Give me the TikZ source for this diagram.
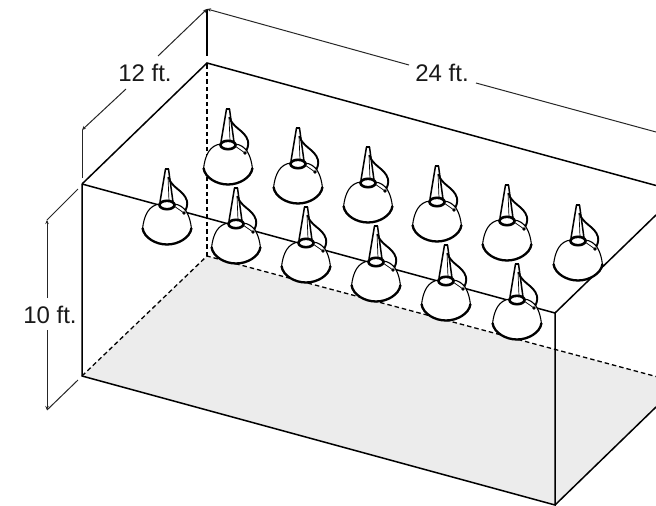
\documentclass[tikz,border=0pt]{standalone}
\usepackage{fontspec}
\setmainfont{Liberation Sans}
\usetikzlibrary{arrows.meta}
\definecolor{floorgray}{RGB}{236,236,236}
\tikzset{
 edge/.style={line width=1.5pt,black},
 hidden/.style={line width=1.3pt,black,dash pattern=on 4.5pt off 3pt},
 dimline/.style={line width=1pt,black!85},
 dimtip/.style={-{Stealth[length=4pt,width=3.5pt]}},
 dimlabel/.style={font=\fontsize{24}{26}\selectfont,text=black!90,inner sep=0pt},
 lamp/.pic={
  \draw[white,fill=white] (-2,-36) -- (2,-36) -- (8,-2) -- (-8,-2) -- cycle;
  \draw[line width=1.5pt] (-1.5,-36) -- (-7,-3) (1.5,-36) -- (6,-3);
  \draw[line width=2pt] (-1.8,-36) -- (1.8,-36);
  \draw[line width=.7pt] (1,-28) -- (2,-4);
  \draw[line width=1.9pt] (1.5,-28) .. controls (4,-17) and (17,-15) .. (20,-4) .. controls (21,0) and (19,5) .. (17,8);
  \filldraw[white,draw=black,line width=1.1pt] (-24.5,24) .. controls (-23,10) and (-18,0) .. (-7,-1)
     -- (7,-1) .. controls (18,0) and (23,10) .. (24.5,24) .. controls (22,34) and (10,39.5) .. (0,39.5) .. controls (-10,39.5) and (-22,34) .. (-24.5,24) -- cycle;
  \draw[line width=2.3pt] (-24.5,23) .. controls (-23,33) and (-11,39.5) .. (0,39.5) .. controls (11,39.5) and (23,33) .. (24.5,23);
  \draw[line width=.7pt] (7,1) -- (17,8);
  \fill (17,8) circle (1.8);
  \draw[line width=2.6pt,fill=white] (0,0) ellipse (7.5 and 4.2);
 },
}
\begin{document}
\begin{tikzpicture}[x=1pt,y=-1pt]
\useasboundingbox (0,0) rectangle (656,506);
\coordinate (FTL) at (82,184);
\coordinate (FTR) at (555,313);
\coordinate (FBL) at (82,376);
\coordinate (FBR) at (555,505);
\coordinate (BTL) at (207,63);
\coordinate (BTRe) at (656,185.5);
\coordinate (BBL) at (207,256);
\coordinate (BBRe) at (656,376.5);
\coordinate (RTe) at (656,215);
\coordinate (RBe) at (656,407);
% floor
\fill[floorgray] (FBL) -- (BBL) -- (BBRe) -- (RBe) -- (FBR) -- cycle;
% hidden edges
\draw[hidden] (FBL) -- (BBL) -- (BBRe);
\draw[hidden] (BBL) -- (BTL);
% box
\draw[edge] (FTL) -- (BTL) -- (BTRe);
\draw[edge] (FTL) -- (FTR) -- (RTe);
\draw[edge] (FTL) -- (FBL) -- (FBR) -- (FTR);
\draw[edge] (FBR) -- (RBe);
% dimensions
\coordinate (T1) at (82,130);
\coordinate (T1b) at (82,178);
\coordinate (T2) at (207,9);
\coordinate (T2b) at (207,56);
\coordinate (T3e) at (656,132);
\coordinate (D1) at (47,220);
\coordinate (D1b) at (78,189);
\coordinate (D2) at (47,410);
\coordinate (D2b) at (78,380);
\node[dimlabel] (L12) at (145,73) {12 ft.};
\node[dimlabel] (L24) at (442,73) {24 ft.};
\node[dimlabel] (L10) at (50,315) {10 ft.};
\coordinate (G12a) at (126,89);
\coordinate (G12b) at (158,56);
\coordinate (G24a) at (409,65);
\coordinate (G24b) at (476,83);
\coordinate (G10a) at (47,298);
\coordinate (G10b) at (47,330);
\draw[dimline] (T1b) -- (T1);
\draw[line width=1.8pt] (T2) -- (T2b);
\draw[dimline] (D1) -- (D1b);
\draw[dimline] (D2) -- (D2b);
\draw[dimline,dimtip] (G12a) -- (T1);
\draw[dimline,dimtip] (G12b) -- (T2);
\draw[dimline,dimtip] (G24a) -- (T2);
\draw[dimline] (G24b) -- (T3e);
\draw[dimline,dimtip] (G10a) -- (D1);
\draw[dimline,dimtip] (G10b) -- (D2);
% lamps, back row then front row
\foreach \x/\y in {228/145,298/164,368/183,437/202,507/221,578/241,167/205,236/224,306/243,376/262,446/281,517/300}
  \pic at (\x,\y) {lamp};
\end{tikzpicture}
\end{document}
